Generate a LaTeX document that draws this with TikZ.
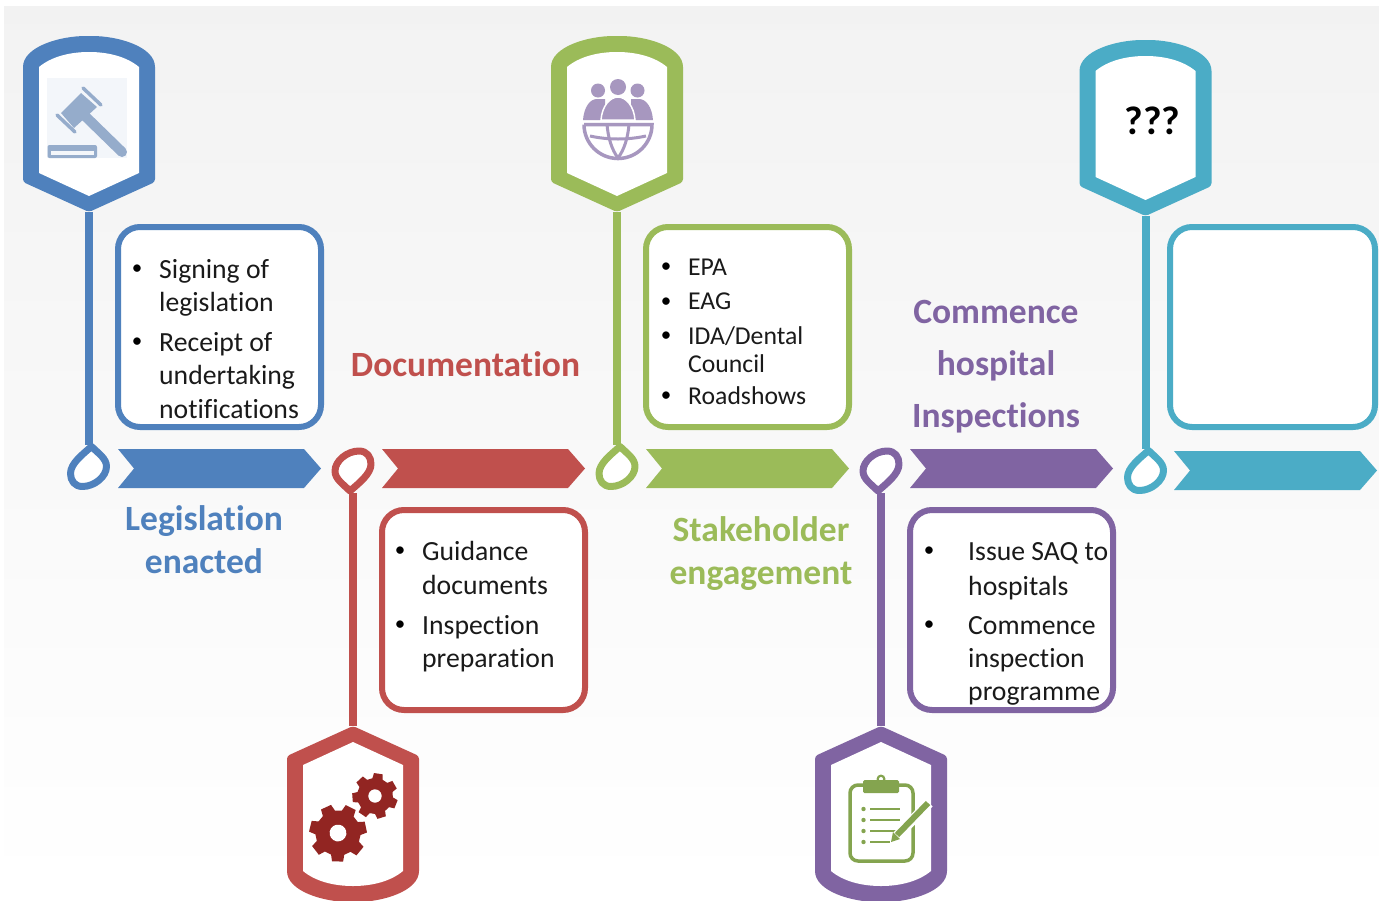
\documentclass[tikz,border=0pt]{standalone}
\usepackage{fontspec}
\setmainfont[Ligatures=NoCommon]{Carlito}
\definecolor{cblue}{HTML}{4F81BD}
\definecolor{cred}{HTML}{C0504D}
\definecolor{cgreen}{HTML}{9BBB59}
\definecolor{cpurple}{HTML}{8064A2}
\definecolor{cteal}{HTML}{4BACC6}
\definecolor{cink}{HTML}{1A1A1A}
\definecolor{gavelc}{HTML}{95ACCB}
\definecolor{gavelbg}{HTML}{F3F6FA}
\definecolor{gearc}{HTML}{922522}
\definecolor{peoplec}{HTML}{A797BF}
\definecolor{clipc}{HTML}{84A44F}
\tikzset{
  x=1pt,y=-1pt,
  item/.style={anchor=base west,inner sep=0pt,text=cink,font=\fontsize{27.7}{27.7}\selectfont},
  itemsmall/.style={anchor=base west,inner sep=0pt,text=cink,font=\fontsize{25.7}{25.7}\selectfont},
  dotmark/.style={anchor=base,inner sep=0pt,text=black,font=\fontsize{21}{21}\selectfont},
  head/.style={anchor=base,inner sep=0pt,font=\fontsize{35.5}{35.5}\selectfont\bfseries},
  infobox/.style={draw=#1,line width=6pt,fill=white,rounded corners=22pt},
  stem/.style={draw=#1,line width=8pt},
  pics/shield/.style={code={
    \fill[#1,rounded corners=3pt] (0,0) -- (-66,30) -- (-66,142)
       .. controls (-66,165) and (-30,176) .. (0,176)
       .. controls (30,176) and (66,165) .. (66,142) -- (66,30) -- cycle;
    \fill[white] (0,16) -- (-50,39) -- (-50,145)
       .. controls (-38,155) and (-20,160) .. (0,160)
       .. controls (20,160) and (38,155) .. (50,145) -- (50,39) -- cycle;
  }},
  pics/teardrop/.style={code={
    \draw[#1,line width=7pt,fill=white,line join=round]
       (3,-20) .. controls (10,-13) and (18,-8) .. (18,0)
       .. controls (18,10) and (6,20) .. (-6,20)
       .. controls (-14,20) and (-18,14) .. (-18,7)
       .. controls (-18,-3) and (-6,-12) .. cycle;
  }},
  pics/chevron/.style={code={
    \fill[#1] (0,0) -- (186,0) -- (203,19.5) -- (186,39) -- (0,39) -- (16,19.5) -- cycle;
  }},
  pics/cog/.style={code={
    \fill[gearc] (-17:0.78) foreach \i in {0,...,6}{
       -- ({\i*51.43-17}:0.78) -- ({\i*51.43-11}:1) -- ({\i*51.43+11}:1) -- ({\i*51.43+17}:0.78)
    } -- cycle;
    \fill[white] (0,0) circle (0.29);
  }},
}
\begin{document}
\begin{tikzpicture}
\useasboundingbox (0,0) rectangle (1379,900);
\shade[top color=black!5,bottom color=white,middle color=black!2.5] (4,6) rectangle (1379,890);

% anchor points of the stems
\coordinate (tipA) at (89,212);   \coordinate (dropA) at (89,445);
\coordinate (tipB) at (353,726);  \coordinate (dropB) at (353,493);
\coordinate (tipC) at (617,212);  \coordinate (dropC) at (617,445);
\coordinate (tipD) at (881,726);  \coordinate (dropD) at (881,493);
\coordinate (tipE) at (1145.5,216); \coordinate (dropE) at (1145.5,449);

\draw[stem=cblue]   (tipA) -- (dropA);
\draw[stem=cred]    (tipB) -- (dropB);
\draw[stem=cgreen]  (tipC) -- (dropC);
\draw[stem=cpurple] (tipD) -- (dropD);
\draw[stem=cteal]   (tipE) -- (dropE);

% shields
\pic[yscale=-1] at (tipA) {shield=cblue};
\pic at (tipB) {shield=cred};
\pic[yscale=-1] at (tipC) {shield=cgreen};
\pic at (tipD) {shield=cpurple};
\pic[yscale=-1] at (tipE) {shield=cteal};

% teardrops
\pic at (88.5,466.5) {teardrop=cblue};
\pic[rotate=180] at (353,471) {teardrop=cred};
\pic at (617,466.5) {teardrop=cgreen};
\pic[rotate=180] at (881,471) {teardrop=cpurple};
\pic at (1145.5,470.5) {teardrop=cteal};

% chevrons
\pic at (118,449) {chevron=cblue};
\pic at (382,449) {chevron=cred};
\pic at (646,449) {chevron=cgreen};
\pic at (910,449) {chevron=cpurple};
\pic at (1174,451) {chevron=cteal};

% boxes
\draw[infobox=cblue]   (118,227) rectangle (321,427);
\draw[infobox=cred]    (382,510) rectangle (585,710);
\draw[infobox=cgreen]  (646,227) rectangle (849,427);
\draw[infobox=cpurple] (910,510) rectangle (1113,710);
\draw[infobox=cteal]   (1170,227) rectangle (1375,427);

% box texts
\node[dotmark] (b1) at (137,274) {•};
\node[item] (a1) at (159,278) {Signing of};
\node[item] (a2) at (159,311) {legislation};
\node[dotmark] (b2) at (137,347) {•};
\node[item] (a3) at (159,351) {Receipt of};
\node[item] (a4) at (159,384) {undertaking};
\node[item] (a5) at (159,418) {notifications};

\node[dotmark] (b3) at (400,556) {•};
\node[item] (r1) at (422,560) {Guidance};
\node[item] (r2) at (422,594) {documents};
\node[dotmark] (b4) at (400,630) {•};
\node[item] (r3) at (422,634) {Inspection};
\node[item] (r4) at (422,667) {preparation};

\node[dotmark] (b5) at (666,272) {•};
\node[itemsmall] (g1) at (688,275) {EPA};
\node[dotmark] (b6) at (666,307) {•};
\node[itemsmall] (g2) at (688,309) {EAG};
\node[dotmark] (b7) at (666,341) {•};
\node[itemsmall] (g3) at (688,344) {IDA/Dental};
\node[itemsmall] (g4) at (688,372) {Council};
\node[dotmark] (b8) at (666,401) {•};
\node[itemsmall] (g5) at (688,404) {Roadshows};

\node[dotmark] (b9) at (929,556) {•};
\node[item] (p1) at (968,560) {Issue SAQ to};
\node[item] (p2) at (968,595) {hospitals};
\node[dotmark] (b10) at (929,630) {•};
\node[item] (p3) at (968,634) {Commence};
\node[item] (p4) at (968,667) {inspection};
\node[item] (p5) at (968,700) {programme};

% headings
\node[head,text=cblue] (h1) at (204,530) {Legislation};
\node[head,text=cblue] (h2) at (204,573) {enacted};
\node[head,text=cred] (h3) at (465.5,376) {Documentation};
\node[head,text=cgreen] (h4) at (761,541) {Stakeholder};
\node[head,text=cgreen] (h5) at (761,584) {engagement};
\node[head,text=cpurple] (h6) at (996,323) {Commence};
\node[head,text=cpurple] (h7) at (996,375) {hospital};
\node[head,text=cpurple] (h8) at (996,427) {Inspections};
\node[inner sep=0pt,text=black,font=\fontsize{40}{40}\selectfont\bfseries] (q) at (1152.5,121) {???};

% gavel icon
\fill[gavelbg] (47,78) rectangle (127,158);
\draw[gavelc,line width=10pt,line cap=round] (84,115) -- (122,152);
\fill[gavelc] (81,93) -- (97,107) -- (74,128) -- (61,113) -- cycle;
\draw[gavelc,line width=3.5pt,line cap=round] (83,88) -- (101,105);
\draw[gavelc,line width=3.5pt,line cap=round] (57,115) -- (75,132);
\fill[gavelc,rounded corners=2pt] (47.5,145) rectangle (97,158);
\fill[gavelbg] (50.5,151) rectangle (94,155);

% gears icon
\pic[scale=29,rotate=12] at (338,833) {cog};
\pic[scale=23,rotate=30] at (375,796) {cog};

% people and globe icon
\fill[peoplec] (618,87) circle (8);
\fill[peoplec] (598,90.5) circle (7);
\fill[peoplec] (637.5,90.5) circle (7);
\fill[peoplec] (583,120) .. controls (584,107) and (590,99) .. (597,99) -- (605,99) -- (605,120) -- cycle;
\fill[peoplec] (653,120) .. controls (652,107) and (646,99) .. (639,99) -- (631,99) -- (631,120) -- cycle;
\draw[white,line width=1.5pt,fill=peoplec] (601,120) .. controls (602,106) and (610,97) .. (618,97) .. controls (626,97) and (634,106) .. (635,120) -- cycle;
\draw[peoplec,line width=3.5pt] (584,124.5) -- (652,124.5) arc[start angle=0,end angle=180,radius=34];
\draw[peoplec,line width=3pt] (590,136) .. controls (608,140) and (628,140) .. (646,136);
\draw[peoplec,line width=3pt] (607,124) .. controls (608,138) and (612,150) .. (618,158) .. controls (624,150) and (628,138) .. (629,124);

% clipboard icon
\draw[clipc,line width=3.5pt,rounded corners=8pt,fill=white] (850,785) rectangle (913,861);
\fill[clipc] (881,779) circle (4.5);
\fill[white] (881,779) circle (2);
\fill[clipc,rounded corners=1.5pt] (863,780) rectangle (899,793);
\foreach \yy/\xe in {809/900,820/900,831/900,842/890}{
  \fill[clipc] (863.5,\yy) circle (2.2);
  \draw[clipc,line width=2.5pt] (870,\yy) -- (\xe,\yy);
}
\draw[white,line width=10pt] (893,840) -- (929,803);
\draw[clipc,line width=6pt] (897,835) -- (928,803);
\fill[clipc] (891,842) -- (893,832) -- (900,839) -- cycle;
\end{tikzpicture}
\end{document}
